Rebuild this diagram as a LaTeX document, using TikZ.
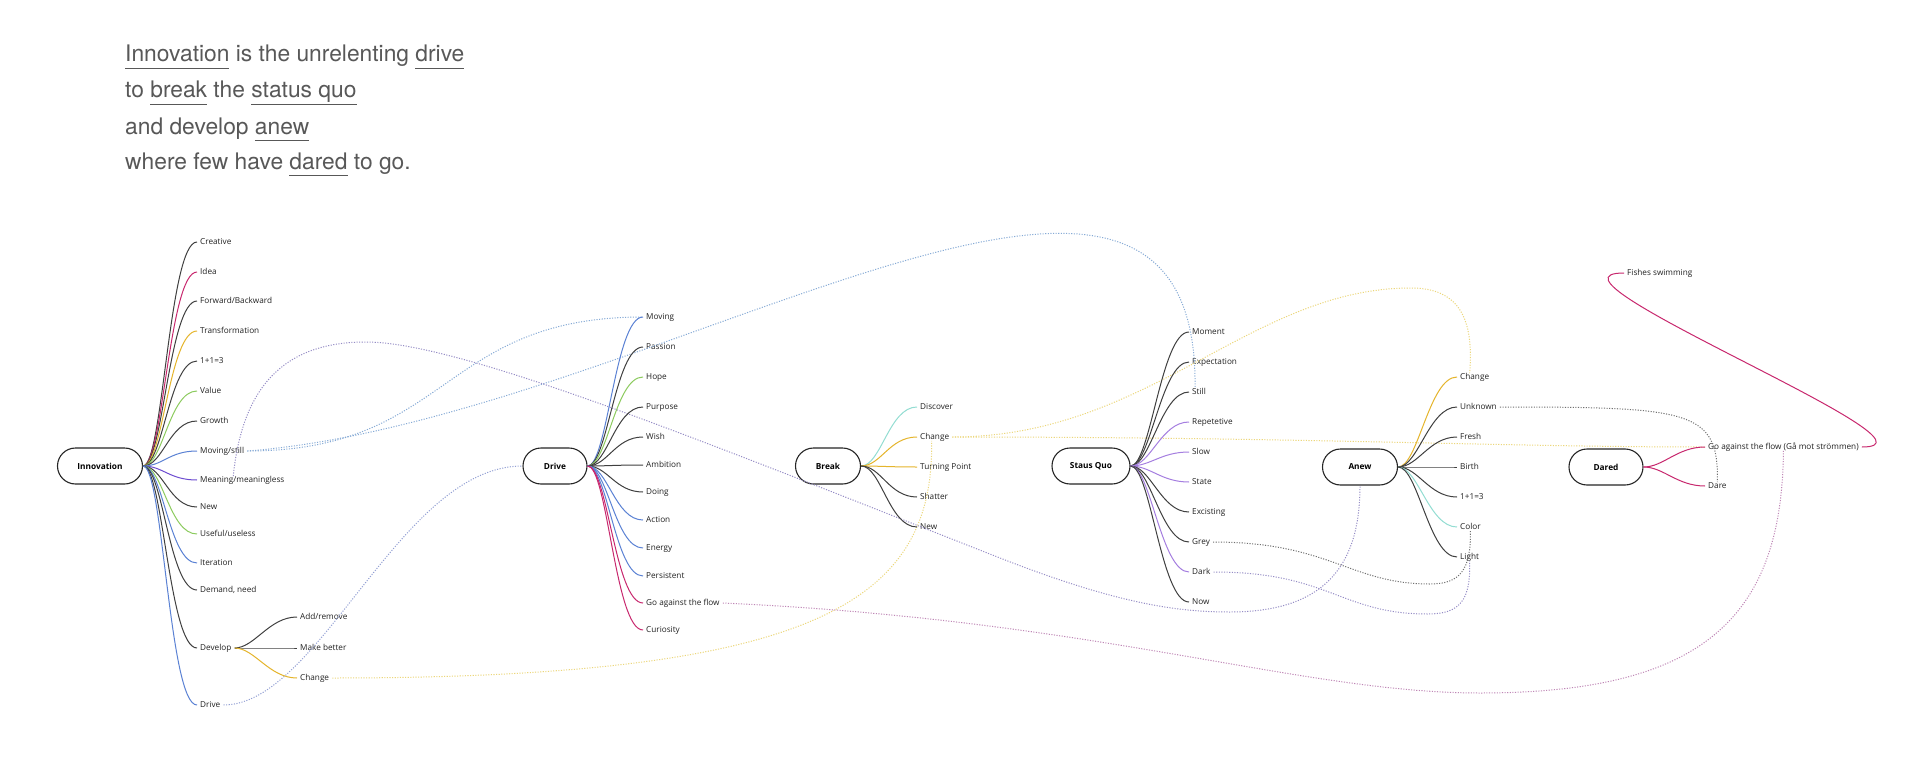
\documentclass[tikz,border=0pt]{standalone}
\usepackage{fontspec}
\setmainfont{Open Sans}
\newfontfamily\titlefont{TeX Gyre Heros}
\usetikzlibrary{calc}
\definecolor{ink}{HTML}{222222}
\definecolor{cblk}{HTML}{404040}
\definecolor{cmag}{HTML}{C8286E}
\definecolor{cgold}{HTML}{E5B52C}
\definecolor{cgrn}{HTML}{8CCB5E}
\definecolor{cblu}{HTML}{5B82D4}
\definecolor{cpur}{HTML}{6C4BD0}
\definecolor{clav}{HTML}{A57EE0}
\definecolor{cteal}{HTML}{93DDD2}
\definecolor{dblu}{HTML}{86AAD6}
\definecolor{dbg}{HTML}{93A0D4}
\definecolor{dpur}{HTML}{958CC6}
\definecolor{dyel}{HTML}{ECD77A}
\definecolor{dgry}{HTML}{707070}
\definecolor{dpink}{HTML}{BF86B6}
\definecolor{ttlc}{HTML}{585858}
\newcommand\ulw[1]{\setbox0=\hbox{#1}\rlap{\rule[-7.2pt]{\wd0}{1pt}}\box0\relax}
\begin{document}
\begin{tikzpicture}[x=1pt,y=-1pt,
  hub/.style={draw=black!85, line width=1.1pt, rounded corners=18pt, minimum height=36pt,
    font=\fontsize{8.3}{9}\selectfont\bfseries, inner sep=0pt, text=black},
  leaf/.style={anchor=west, inner xsep=3pt, inner ysep=0pt, text height=6.2pt, text depth=1.2pt,
    font=\fontsize{8.2}{9}\selectfont, text=ink},
  br/.style={line width=1pt},
  lnk/.style={line width=1pt, dash pattern=on 1.1pt off 1.5pt},
  ttl/.style={font=\titlefont\fontsize{22.8}{27}\selectfont, text=ttlc, inner sep=0pt, anchor=base west}]
\fill[white] (0,0) rectangle (1920,760);
\useasboundingbox (0,0) rectangle (1920,760);

% title
\node[ttl] (t1) at (125,62) {\ulw{Innovation} is the unrelenting \ulw{drive}};
\node[ttl] (t2) at (125,98) {to \ulw{break} the \ulw{status quo}};
\node[ttl] (t3) at (125,134) {and develop \ulw{anew}};
\node[ttl] (t4) at (125,169) {where few have \ulw{dared} to go.};

% hubs
\node[hub, minimum width=85pt] (inn) at (100,466) {Innovation};
\node[hub, minimum width=64pt] (drv) at (555,466) {Drive};
\node[hub, minimum width=65pt] (brk) at (828,466) {Break};
\node[hub, minimum width=78pt] (sq) at (1091,466) {Staus Quo};
\node[hub, minimum width=75pt] (anw) at (1360,467) {Anew};
\node[hub, minimum width=74pt] (drd) at (1606,467) {Dared};

% innovation leaves
\node[leaf] (iCre) at (197,242) {Creative};
\node[leaf] (iIde) at (197,272) {Idea};
\node[leaf] (iFwd) at (197,301) {Forward/Backward};
\node[leaf] (iTra) at (197,331) {Transformation};
\node[leaf] (iOne) at (197,361) {1+1=3};
\node[leaf] (iVal) at (197,391) {Value};
\node[leaf] (iGro) at (197,421) {Growth};
\node[leaf] (iMov) at (197,451) {Moving/still};
\node[leaf] (iMea) at (197,480) {Meaning/meaningless};
\node[leaf] (iNew) at (197,507) {New};
\node[leaf] (iUse) at (197,534) {Useful/useless};
\node[leaf] (iIte) at (197,563) {Iteration};
\node[leaf] (iDem) at (197,590) {Demand, need};
\node[leaf] (iDev) at (197,648) {Develop};
\node[leaf] (iDrv) at (197,705) {Drive};
\node[leaf] (vAdd) at (297,617) {Add/remove};
\node[leaf] (vMak) at (297,648) {Make better};
\node[leaf] (vCha) at (297,678) {Change};

% drive leaves
\node[leaf] (dMov) at (643,317) {Moving};
\node[leaf] (dPas) at (643,347) {Passion};
\node[leaf] (dHop) at (643,377) {Hope};
\node[leaf] (dPur) at (643,407) {Purpose};
\node[leaf] (dWis) at (643,437) {Wish};
\node[leaf] (dAmb) at (643,465) {Ambition};
\node[leaf] (dDoi) at (643,492) {Doing};
\node[leaf] (dAct) at (643,520) {Action};
\node[leaf] (dEne) at (643,548) {Energy};
\node[leaf] (dPer) at (643,576) {Persistent};
\node[leaf] (dGat) at (643,603) {Go against the flow};
\node[leaf] (dCur) at (643,630) {Curiosity};

% break leaves
\node[leaf] (bDis) at (917,407) {Discover};
\node[leaf] (bCha) at (917,437) {Change};
\node[leaf] (bTur) at (917,467) {Turning Point};
\node[leaf] (bSha) at (917,497) {Shatter};
\node[leaf] (bNew) at (917,527) {New};

% status quo leaves
\node[leaf] (sMom) at (1189,332) {Moment};
\node[leaf] (sExp) at (1189,362) {Expectation};
\node[leaf] (sSti) at (1189,392) {Still};
\node[leaf] (sRep) at (1189,422) {Repetetive};
\node[leaf] (sSlo) at (1189,452) {Slow};
\node[leaf] (sSta) at (1189,482) {State};
\node[leaf] (sExc) at (1189,512) {Excisting};
\node[leaf] (sGre) at (1189,542) {Grey};
\node[leaf] (sDar) at (1189,572) {Dark};
\node[leaf] (sNow) at (1189,602) {Now};

% anew leaves
\node[leaf] (aCha) at (1457,377) {Change};
\node[leaf] (aUnk) at (1457,407) {Unknown};
\node[leaf] (aFre) at (1457,437) {Fresh};
\node[leaf] (aBir) at (1457,467) {Birth};
\node[leaf] (aOne) at (1457,497) {1+1=3};
\node[leaf] (aCol) at (1457,527) {Color};
\node[leaf] (aLig) at (1457,557) {Light};

% dared leaves
\node[leaf] (rGat) at (1705,447) {Go against the flow (Gå mot strömmen)};
\node[leaf] (rDar) at (1705,486) {Dare};
\node[leaf] (rFis) at (1624,273) {Fishes swimming};

% dotted cross links
\draw[lnk,dblu] (iMov.east) .. controls (450,451) and (440,317) .. (dMov.west);
\draw[lnk,dblu] (iMov.east) .. controls (650,420) and (1200,20) .. ($(sSti.north)+(-4,0)$);
\draw[lnk,dpur] ($(iMea.north)+(-9,0)$) .. controls (243,380) and (290,342) .. (366,342)
  .. controls (460,342) and (700,440) .. (1000,558) .. controls (1120,605) and (1180,612) .. (1230,612)
  .. controls (1330,612) and (1360,560) .. (anw.south);
\draw[lnk,dyel] (vCha.east) .. controls (820,678) and (934,600) .. ($(bCha.south)+(-3,0)$);
\draw[lnk,dbg] (iDrv.east) .. controls (320,705) and (400,466) .. (drv.west);
\draw[lnk,dpink] (dGat.east) .. controls (1100,620) and (1300,693) .. (1480,693)
  .. controls (1700,693) and (1782,620) .. (rGat.south);
\draw[lnk,dyel] (bCha.east) .. controls (1300,437) and (1500,447) .. (rGat.west);
\draw[lnk,dyel] (bCha.east) .. controls (1150,437) and (1250,288) .. (1411,288)
  .. controls (1460,288) and (1474,320) .. ($(aCha.north)+(-5,0)$);
\draw[lnk,dgry] (sGre.east) .. controls (1330,542) and (1350,584) .. (1430,584)
  .. controls (1460,584) and (1471,570) .. (aCol.south);
\draw[lnk,dpur] (sDar.east) .. controls (1330,572) and (1340,614) .. (1428,614)
  .. controls (1460,614) and (1471,600) .. (aLig.south);
\draw[lnk,dgry] (aUnk.east) .. controls (1690,407) and (1719,410) .. (rDar.north);

% tree branches
\foreach \a/\b/\c in {inn/iCre/cblk, inn/iIde/cmag, inn/iFwd/cblk, inn/iTra/cgold, inn/iOne/cblk,
  inn/iVal/cgrn, inn/iGro/cblk, inn/iMov/cblu, inn/iMea/cpur, inn/iNew/cblk, inn/iUse/cgrn,
  inn/iIte/cblu, inn/iDem/cblk, inn/iDev/cblk, inn/iDrv/cblu,
  iDev/vAdd/cblk, iDev/vMak/cblk, iDev/vCha/cgold,
  drv/dMov/cblu, drv/dPas/cblk, drv/dHop/cgrn, drv/dPur/cblk, drv/dWis/cblk, drv/dAmb/cblk,
  drv/dDoi/cblk, drv/dAct/cblu, drv/dEne/cblu, drv/dPer/cblu, drv/dGat/cmag, drv/dCur/cmag,
  brk/bDis/cteal, brk/bCha/cgold, brk/bTur/cgold, brk/bSha/cblk, brk/bNew/cblk,
  sq/sMom/cblk, sq/sExp/cblk, sq/sSti/cblk, sq/sRep/clav, sq/sSlo/clav, sq/sSta/clav,
  sq/sExc/cblk, sq/sGre/cblk, sq/sDar/clav, sq/sNow/cblk,
  anw/aCha/cgold, anw/aUnk/cblk, anw/aFre/cblk, anw/aBir/cblk, anw/aOne/cblk, anw/aCol/cteal,
  anw/aLig/cblk, drd/rGat/cmag, drd/rDar/cmag}
  \draw[br,\c] (\a.east) .. controls +(20,0) and +(-28,0) .. (\b.west);
\draw[br,cmag] (rGat.east) .. controls (1960,447) and (1520,273) .. (rFis.west);
\end{tikzpicture}
\end{document}
